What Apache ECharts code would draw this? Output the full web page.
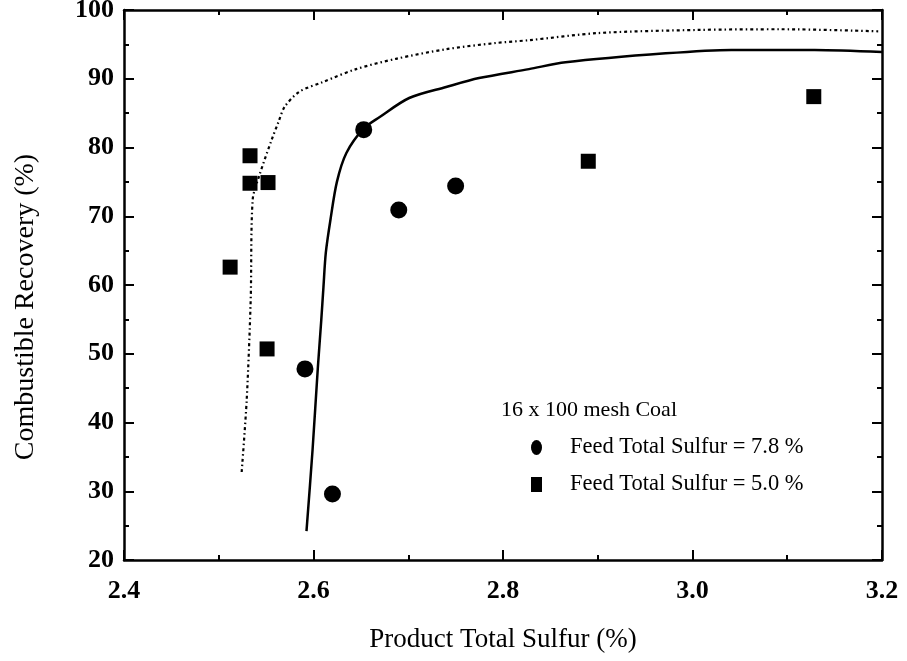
<!DOCTYPE html>
<html>
<head>
<meta charset="utf-8">
<script src="https://cdn.jsdelivr.net/npm/echarts@6/dist/echarts.min.js"></script>
<style>
  html, body { margin: 0; padding: 0; background: #fff; }
  #chart { width: 907px; height: 661px; }
</style>
</head>
<body>
<div id="chart"></div>
<script>
// Measured points: product total sulfur (%) vs combustible recovery (%)
const feed78 = [[2.653, 82.6], [2.690, 70.9], [2.750, 74.4], [2.591, 47.8], [2.620, 29.6]];
const feed50 = [[2.533, 78.8], [2.533, 74.8], [2.552, 74.9], [2.512, 62.6], [2.551, 50.7], [2.890, 78.0], [3.128, 87.4]];

// Separation curves (solid: 7.8 % feed, dotted: 5.0 % feed)
const solidCurve = [
  [2.5926, 24.2], [2.599, 36.0], [2.6045, 47.8], [2.6082, 54.9], [2.6105, 59.7],
  [2.613, 64.7], [2.6179, 69.5], [2.6247, 75.0], [2.6347, 79.2], [2.6526, 82.7],
  [2.6695, 84.4], [2.701, 87.2], [2.74, 88.8], [2.7747, 90.1], [2.8274, 91.4],
  [2.866, 92.4], [2.9716, 93.7], [3.041, 94.2], [3.129, 94.2], [3.2, 93.9]
];
const dottedCurve = [
  [2.5242, 32.8], [2.5295, 43.3], [2.5337, 57.8], [2.5358, 72.4], [2.543, 76.0],
  [2.5558, 81.1], [2.563, 83.7], [2.5695, 85.9], [2.585, 88.1], [2.6095, 89.5],
  [2.645, 91.4], [2.687, 92.9], [2.74, 94.3], [2.7926, 95.2], [2.827, 95.6],
  [2.901, 96.65], [3.006, 97.1], [3.094, 97.2], [3.196, 96.9]
];

const xMin = 2.4, xMax = 3.2, xStep = 0.2;
const yMin = 20, yMax = 100, yStep = 10;

const serif = '"Liberation Serif", "DejaVu Serif", serif';
const legendTitle = '16 x 100 mesh Coal';
const name78 = 'Feed Total Sulfur = 7.8 %';
const name50 = 'Feed Total Sulfur = 5.0 %';

// Oval legend marker (a circle path stretched into the icon box)
const ovalIcon = 'path://M50,0 A50,50 0 1,1 50,100 A50,50 0 1,1 50,0 Z';

const axisLine = { show: true, onZero: false, lineStyle: { color: '#000', width: 2.5 } };
const majorTick = { show: true, inside: true, length: 10, lineStyle: { color: '#000', width: 2 } };
const minorTick = { show: true, splitNumber: 2, length: 5, lineStyle: { color: '#000', width: 2 } };

const chart = echarts.init(document.getElementById('chart'), null, { renderer: 'canvas' });
chart.setOption({
  animation: false,
  backgroundColor: '#fff',
  title: {
    text: legendTitle,
    left: 496, top: 394,
    textStyle: { fontFamily: serif, fontSize: 22, fontWeight: 'normal', color: '#000' }
  },
  legend: {
    data: [
      { name: name78, icon: ovalIcon },
      { name: name50, icon: 'rect' }
    ],
    orient: 'vertical',
    left: 526, top: 431,
    itemWidth: 11, itemHeight: 15,
    itemGap: 14,
    symbolKeepAspect: false,
    itemStyle: { color: '#000', opacity: 1 },
    textStyle: { fontFamily: serif, fontSize: 22.5, color: '#000', padding: [0, 0, 0, 23] }
  },
  grid: {
    left: 124, right: 25, top: 10, bottom: 101,
    containLabel: false, outerBoundsMode: 'none'
  },
  xAxis: [
    {
      type: 'value', position: 'bottom', min: xMin, max: xMax, interval: xStep,
      name: 'Product Total Sulfur (%)', nameLocation: 'middle', nameGap: 66,
      nameTextStyle: { fontFamily: serif, fontSize: 27, color: '#000' },
      axisLine, axisTick: majorTick, minorTick, splitLine: { show: false },
      axisLabel: {
        margin: 18, fontFamily: serif, fontSize: 26, fontWeight: 'bold', color: '#000',
        formatter: v => v.toFixed(1)
      }
    },
    {
      type: 'value', position: 'top', min: xMin, max: xMax, interval: xStep,
      axisLine, axisTick: majorTick, minorTick, splitLine: { show: false },
      axisLabel: { show: false }
    }
  ],
  yAxis: [
    {
      type: 'value', position: 'left', min: yMin, max: yMax, interval: yStep,
      name: 'Combustible Recovery (%)', nameLocation: 'middle', nameGap: 84,
      nameTextStyle: { fontFamily: serif, fontSize: 28, color: '#000', padding: [0, 44, 0, 0] },
      axisLine, axisTick: majorTick, minorTick, splitLine: { show: false },
      axisLabel: { margin: 10, fontFamily: serif, fontSize: 26, fontWeight: 'bold', color: '#000' }
    },
    {
      type: 'value', position: 'right', min: yMin, max: yMax, interval: yStep,
      axisLine, axisTick: majorTick, minorTick, splitLine: { show: false },
      axisLabel: { show: false }
    }
  ],
  series: [
    {
      name: 'curve78', type: 'line', data: solidCurve, smooth: 0.3,
      showSymbol: false, symbol: 'none', silent: true,
      lineStyle: { color: '#000', width: 2.5 }, z: 2
    },
    {
      name: 'curve50', type: 'line', data: dottedCurve, smooth: 0.3,
      showSymbol: false, symbol: 'none', silent: true,
      lineStyle: { color: '#000', width: 2.2, type: [3, 3, 1.5, 3] }, z: 2
    },
    {
      name: name78, type: 'scatter', data: feed78,
      symbol: 'circle', symbolSize: 17,
      itemStyle: { color: '#000', opacity: 1 }, z: 3
    },
    {
      name: name50, type: 'scatter', data: feed50,
      symbol: 'rect', symbolSize: 15,
      itemStyle: { color: '#000', opacity: 1 }, z: 3
    }
  ]
});
</script>
</body>
</html>
